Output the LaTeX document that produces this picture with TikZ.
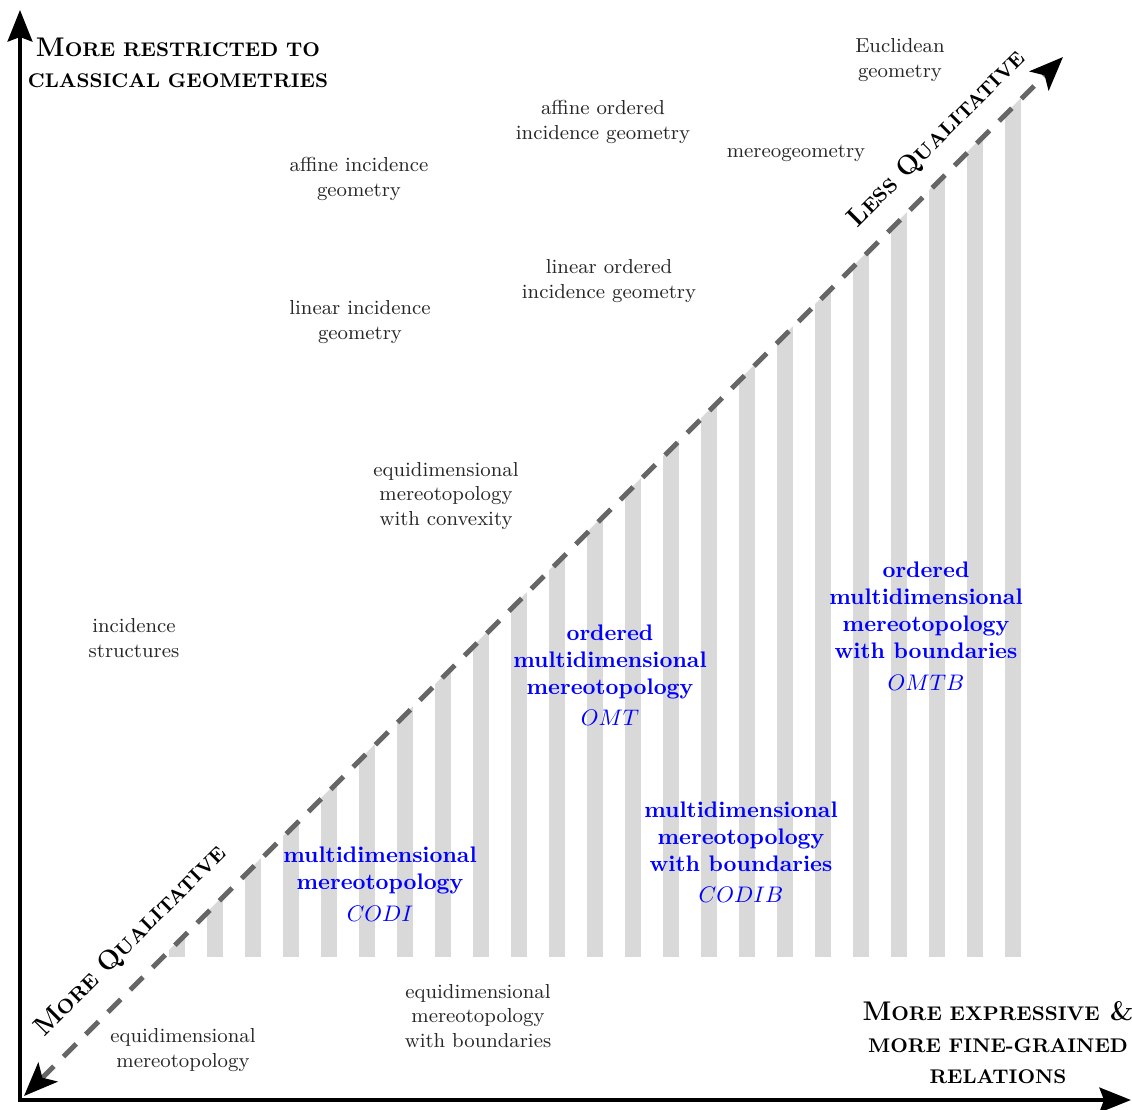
\documentclass[tikz,border=0pt]{standalone}
\usetikzlibrary{arrows.meta}
\newcommand{\scsm}[1]{{\fontsize{8.8pt}{14pt}\selectfont #1}}
\begin{document}
\begin{tikzpicture}[x=0.4444pt,y=-0.4444pt,
  gtxt/.style={font=\small, text=black!85, align=center, inner sep=0pt},
  btxt/.style={font=\bfseries, text=blue, align=center, inner sep=0pt},
  axlbl/.style={font=\large\bfseries, align=center, inner sep=0pt},
  axisline/.style={line width=1.8pt, line join=miter,
    {Stealth[length=14pt,width=11pt,inset=2pt]}-{Stealth[length=14pt,width=11pt,inset=2pt]}},
  diagline/.style={line width=2.2pt, draw=black!60, dash pattern=on 8pt off 6pt,
    {Stealth[length=15pt,width=12pt,inset=3.5pt,black]}-{Stealth[length=15pt,width=12pt,inset=3.5pt,black]}},
  barfill/.style={fill=black!15}]
\useasboundingbox (0,0) rectangle (1132,1109);

% bars under the diagonal
\begin{scope}
  \clip (0,1119) -- (1119,0) -- (1132,0) -- (1132,1109) -- (0,1109) -- cycle;
  \foreach \k in {0,...,22} {
    \fill[barfill] ({169+38*\k},957) rectangle ++(16,-960);
  }
\end{scope}

% coordinates
\coordinate (O) at (20,1100);
\coordinate (Ytop) at (20,10);
\coordinate (Xend) at (1131,1100);
\coordinate (Dlo) at (24,1096);
\coordinate (Dhi) at (1063,57);

\draw[diagline] (Dlo) -- (Dhi);
\draw[axisline] (Ytop) -- (O) -- (Xend);

% axis labels
\node[axlbl] (ylab) at (178,63) {M\scsm{ORE RESTRICTED TO}\\\scsm{CLASSICAL GEOMETRIES}};
\node[axlbl] (xlab) at (998,1043) {M\scsm{ORE EXPRESSIVE} \&\\\scsm{MORE FINE-GRAINED}\\\scsm{RELATIONS}};
\node[axlbl, rotate=45] (lessq) at (937,139) {L\scsm{ESS} Q\scsm{UALITATIVE}};
\node[axlbl, rotate=45] (moreq) at (131,941) {M\scsm{ORE} Q\scsm{UALITATIVE}};

% gray labels
\node[gtxt] (eucl) at (900,60) {Euclidean\\geometry};
\node[gtxt] (aoig) at (603,122) {affine ordered\\incidence geometry};
\node[gtxt] (mgeo) at (796,153) {mereogeometry};
\node[gtxt] (aig) at (359,179) {affine incidence\\geometry};
\node[gtxt] (loig) at (609,281) {linear ordered\\incidence geometry};
\node[gtxt] (lig) at (360,322) {linear incidence\\geometry};
\node[gtxt] (emc) at (446,496) {equidimensional\\mereotopology\\with convexity};
\node[gtxt] (incs) at (134,638) {incidence\\structures};
\node[gtxt] (em) at (183,1050) {equidimensional\\mereotopology};
\node[gtxt] (emb) at (478,1016) {equidimensional\\mereotopology\\with boundaries};

% blue labels
\node[btxt] (codi) at (380,884) {multidimensional\\mereotopology\\[2pt]$CODI$};
\node[btxt] (omt) at (610,675) {ordered\\multidimensional\\mereotopology\\[2pt]$OMT$};
\node[btxt] (codib) at (741,852) {multidimensional\\mereotopology\\with boundaries\\[2pt]$CODIB$};
\node[btxt] (omtb) at (926,626) {ordered\\multidimensional\\mereotopology\\with boundaries\\[2pt]$OMTB$};
\end{tikzpicture}
\end{document}
